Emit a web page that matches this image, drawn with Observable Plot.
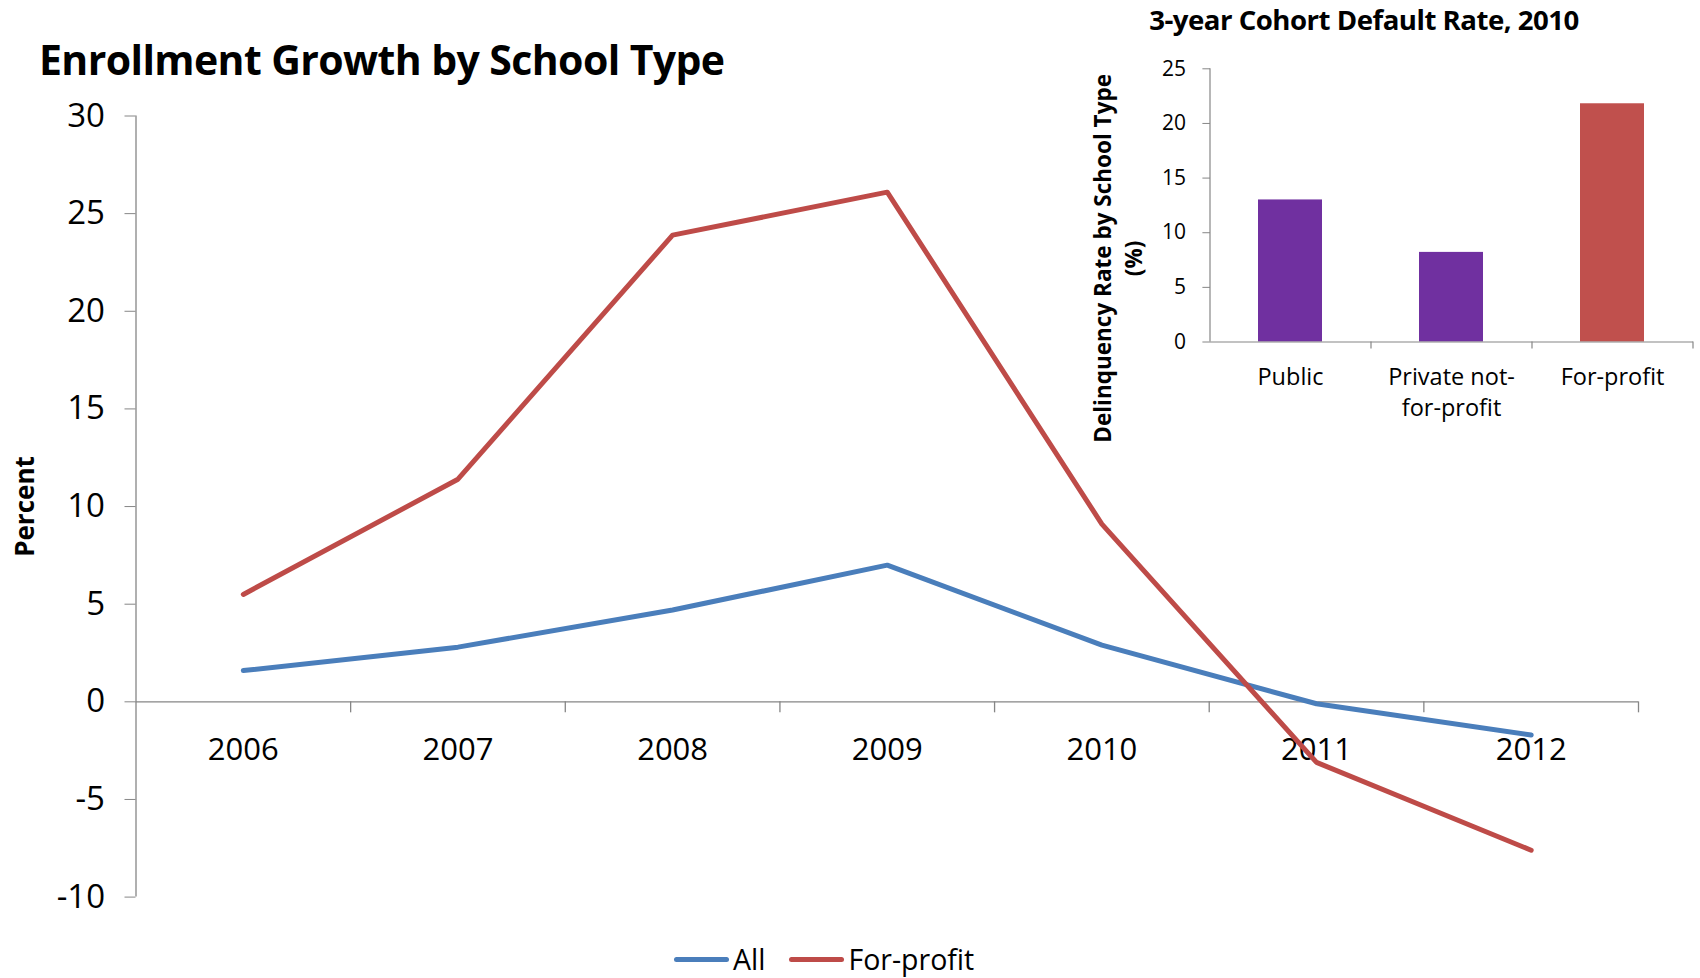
<!DOCTYPE html>
<html><head><meta charset="utf-8">
<script src="https://cdn.jsdelivr.net/npm/d3@7"></script>
<script src="https://cdn.jsdelivr.net/npm/@observablehq/plot@0.6"></script>
<style>
body{margin:0;background:#fff;font-family:"Open Sans",sans-serif;}
#wrap{position:relative;width:1700px;height:978px;overflow:hidden;background:#fff;}
#main{position:absolute;left:0;top:0;}
#inset{position:absolute;left:1040px;top:0px;}
#title{position:absolute;left:39px;top:38.5px;font-weight:bold;font-size:41px;line-height:1;letter-spacing:-0.6px;color:#000;white-space:nowrap;}
#insetTitle{position:absolute;left:1364px;top:3px;transform:translateX(-50%);font-weight:bold;font-size:27.6px;line-height:1.2;color:#000;white-space:nowrap;letter-spacing:-0.5px;}
#legend{position:absolute;left:674px;top:945px;display:flex;align-items:center;font-size:28.5px;line-height:1;color:#000;}
.sw{display:inline-block;width:55px;height:5px;border-radius:3px;margin-right:4px;}
.item{display:flex;align-items:center;margin-right:24px;}
svg{overflow:visible;}
</style></head><body>
<div id="wrap">
  <div id="main"></div>
  <div id="title">Enrollment Growth by School Type</div>
  <div id="inset"></div>
  <div id="insetTitle">3-year Cohort Default Rate, 2010</div>
  <div id="legend"></div>
</div>
<script>
// ---- data ----
const years = [2006, 2007, 2008, 2009, 2010, 2011, 2012];
const allGrowth = [1.6, 2.8, 4.7, 7.0, 2.9, -0.1, -1.7];
const forProfitGrowth = [5.5, 11.4, 23.9, 26.1, 9.1, -3.1, -7.6];
const seriesNames = ["All", "For-profit"];
const seriesColors = ["#4A7EBB", "#BE4B48"];
const yTicks = [-10, -5, 0, 5, 10, 15, 20, 25, 30];

const schoolTypes = ["Public", "Private not-for-profit", "For-profit"];
const schoolLabels = ["Public", "Private not-\nfor-profit", "For-profit"];
const defaultRates = [13.0, 8.2, 21.8];
const barColors = ["#7030A0", "#7030A0", "#C0504D"];
const insetTicks = [0, 5, 10, 15, 20, 25];

// ---- main chart ----
const rows = [];
years.forEach((yr, i) => {
  rows.push({year: yr, value: allGrowth[i], series: seriesNames[0]});
});
years.forEach((yr, i) => {
  rows.push({year: yr, value: forProfitGrowth[i], series: seriesNames[1]});
});
const xDomain = [years[0] - 0.5, years[years.length - 1] + 0.5];
const boundaries = years.map(y => y + 0.5);
const axisGray = "#868686";

const main = Plot.plot({
  width: 1700,
  height: 930,
  marginLeft: 135.5,
  marginRight: 62,
  marginTop: 115.5,
  marginBottom: 33.4,
  style: {fontFamily: "'Open Sans', sans-serif", background: "transparent"},
  x: {domain: xDomain, axis: null},
  y: {domain: [yTicks[0], yTicks[yTicks.length - 1]], axis: null},
  color: {domain: seriesNames, range: seriesColors},
  marks: [
    Plot.ruleX([xDomain[0]], {x: d => d, y1: yTicks[0], y2: yTicks[yTicks.length - 1], stroke: axisGray, strokeWidth: 1.3}),
    Plot.axisY({ticks: yTicks, tickSize: 11, tickPadding: 20, fontSize: 33, stroke: axisGray, color: "#000", label: null, tickFormat: d => String(d)}),
    Plot.ruleY([0], {stroke: axisGray, strokeWidth: 1.3}),
    Plot.ruleX(boundaries, {x: d => d, y1: 0, y2: 0, insetBottom: -11, stroke: axisGray, strokeWidth: 1.3}),
    Plot.text(years, {x: d => d, y: 0, dy: 48, text: d => String(d), fontSize: 31, fill: "#000"}),
    Plot.line(rows, {x: "year", y: "value", z: "series", stroke: "series", strokeWidth: 5, strokeLinejoin: "round", strokeLinecap: "round"}),
    Plot.text(["Percent"], {frameAnchor: "left", textAnchor: "middle", rotate: -90, dx: -110, text: d => d, fontSize: 26, fontWeight: "bold", fill: "#000"})
  ]
});
document.getElementById("main").appendChild(main);

// ---- inset bar chart ----
const bars = schoolTypes.map((t, i) => ({type: t, label: schoolLabels[i], rate: defaultRates[i], color: barColors[i]}));
const insetW = 660, insetML = 170, insetMR = 7;
const step = (insetW - insetML - insetMR) / schoolTypes.length;

const inset = Plot.plot({
  width: insetW,
  height: 460,
  marginLeft: insetML,
  marginRight: insetMR,
  marginTop: 68.3,
  marginBottom: 118.5,
  style: {fontFamily: "'Open Sans', sans-serif", background: "transparent"},
  x: {domain: schoolTypes, axis: null, paddingInner: 0.6, paddingOuter: 0.3},
  y: {domain: [insetTicks[0], insetTicks[insetTicks.length - 1]], axis: null},
  marks: [
    Plot.barY(bars, {x: "type", y: "rate", fill: "color"}),
    Plot.ruleX([schoolTypes[0]], {x: d => d, dx: -step / 2, y1: insetTicks[0], y2: insetTicks[insetTicks.length - 1], stroke: axisGray, strokeWidth: 1.2}),
    Plot.axisY({ticks: insetTicks, tickSize: 7.6, tickPadding: 17, fontSize: 21, stroke: axisGray, color: "#000", label: null}),
    Plot.ruleY([0], {stroke: axisGray, strokeWidth: 1.2}),
    Plot.ruleX(schoolTypes, {x: d => d, dx: step / 2, y1: 0, y2: 0, insetBottom: -7, stroke: axisGray, strokeWidth: 1.2}),
    Plot.text(bars, {x: "type", y: 0, dy: 21, text: "label", lineAnchor: "top", lineHeight: 1.32, fontSize: 23.5, fill: "#000"}),
    Plot.text(["Delinquency Rate by School Type\n(%)"], {frameAnchor: "left", textAnchor: "middle", rotate: -90, dx: -94, dy: 53, text: d => d, lineHeight: 1.4, fontSize: 22.5, fontWeight: "bold", fill: "#000"})
  ]
});
document.getElementById("inset").appendChild(inset);

// ---- legend ----
const legend = document.getElementById("legend");
seriesNames.forEach((name, i) => {
  const item = document.createElement("div");
  item.className = "item";
  const sw = document.createElement("span");
  sw.className = "sw";
  sw.style.background = seriesColors[i];
  const tx = document.createElement("span");
  tx.textContent = name;
  item.appendChild(sw);
  item.appendChild(tx);
  legend.appendChild(item);
});
</script>
</body></html>
